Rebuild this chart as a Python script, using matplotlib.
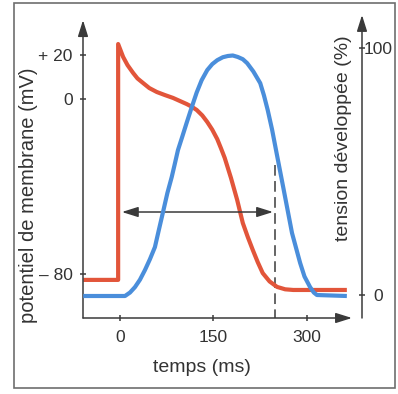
import numpy as np
import matplotlib
matplotlib.use("Agg")
import matplotlib.pyplot as plt
from matplotlib.patches import Rectangle

# potentiel d'action (mV) en fonction du temps (ms)
t_pot = [-59, -3, -3, 5, 12, 21, 28, 37, 47, 59, 72, 85, 96, 107, 115, 123,
         132, 140, 148, 156, 162, 168, 178, 188, 197, 205, 213, 221, 229, 240,
         252, 265, 278, 364]
potentiel = [-82.6, -82.6, 25.1, 19.2, 15.5, 11.9, 9.4, 7.3, 5.0, 3.2, 1.8,
             0.5, -0.9, -2.3, -3.5, -5.0, -7.5, -10.5, -14.0, -18.3, -22.5,
             -26.9, -36.0, -46.1, -56.6, -63.0, -68.9, -74.5, -79.5, -83.3,
             -85.8, -86.9, -87.2, -87.2]

# tension développée (%) en fonction du temps (ms)
t_ten = [-59, 8, 16, 24, 32, 40, 48, 56, 62, 69, 76, 83, 88, 93, 100, 107,
         115, 123, 131, 140, 148, 156, 165, 173, 181, 189, 197, 204, 214, 225,
         231, 237, 244, 252, 262, 276, 289, 296, 305, 311, 316, 364]
tension = [-0.4, -0.4, 1.0, 3.2, 6.2, 10.1, 14.5, 19.4, 26.0, 33.6, 41.3,
           47.8, 53.2, 58.7, 64.2, 69.8, 76.0, 82.0, 87.0, 91.1, 93.5, 95.1,
           96.3, 96.8, 97.0, 96.4, 95.5, 93.9, 90.5, 85.8, 80.8, 74.9, 67.0,
           56.5, 43.5, 25.1, 13.0, 7.5, 3.2, 1.0, 0.0, -0.4]

xticks = [0, 150, 300]
yticks_mv = [-80, 0, 20]
yticks_mv_lab = ['\u2013 80', '0', '+ 20']
yticks_pct = [0, 100]

duree_pa = (3, 245.5)   # fleche horizontale
niveau_fleche = -51.6
t_fin = 249             # ligne pointillee

RED = '#e2553a'
BLUE = '#4a8edb'
AX = '#3a3a3a'
TXT = '#333333'
plt.rcParams['font.family'] = ['Liberation Sans', 'DejaVu Sans']

W, H = 398, 394
fig = plt.figure(figsize=(W / 100, H / 100), dpi=100)
# axes: pixel box x 83..362, y 15..318
ax = fig.add_axes([83 / W, (H - 318) / H, (362 - 83) / W, (318 - 15) / H])
ax.set_xlim(-59.4, 388.3)
ax.set_ylim(-100, 38.36)
ax2 = ax.twinx()
ax2.set_ylim(-9.31, 113.4)

for a in (ax, ax2):
    for s in a.spines.values():
        s.set_visible(False)
    a.patch.set_visible(False)

ax.plot(t_pot, potentiel, color=RED, lw=3, solid_joinstyle='round',
        solid_capstyle='butt', zorder=3)
ax2.plot(t_ten, tension, color=BLUE, lw=3, solid_joinstyle='round',
         solid_capstyle='butt', zorder=4)

# axes avec fleches
arr = dict(arrowstyle='-|>,head_length=0.7,head_width=0.22', color=AX,
           lw=1.1, mutation_scale=14, shrinkA=0, shrinkB=0)
ax.annotate('', xy=(0, 0.983), xytext=(0, 0), xycoords='axes fraction',
            arrowprops=arr)
ax.annotate('', xy=(0.964, 0), xytext=(0, 0), xycoords='axes fraction',
            arrowprops=arr)
ax.annotate('', xy=(1, 1.0), xytext=(1, 0), xycoords='axes fraction',
            arrowprops=arr)

# fleche double + pointilles
ax.annotate('', xy=(duree_pa[0], niveau_fleche),
            xytext=(duree_pa[1], niveau_fleche),
            arrowprops=dict(arrowstyle='<|-|>,head_length=0.7,head_width=0.22',
                            color=AX, lw=1.1, mutation_scale=14,
                            shrinkA=0, shrinkB=0))
ax.plot([t_fin, t_fin], [-30, -100], color=AX, lw=1.1, dashes=(7, 3.5),
        clip_on=False)

# graduations
ax.set_xticks(xticks)
ax.set_xticklabels([str(v) for v in xticks])
ax.set_yticks(yticks_mv)
ax.set_yticklabels(yticks_mv_lab)
ax2.set_yticks(yticks_pct)
ax2.set_yticklabels([str(v) for v in yticks_pct])
ax.tick_params(axis='x', direction='inout', length=5, width=1.1, color=AX,
               labelsize=12.5, labelcolor=TXT, pad=6)
ax.tick_params(axis='y', direction='inout', length=5, width=1.1, color=AX,
               labelsize=12.5, labelcolor=TXT, pad=5)
ax2.tick_params(axis='y', direction='inout', length=5, width=1.1, color=AX,
                labelsize=12.5, labelcolor=TXT, pad=9)
for lab in ax2.get_yticklabels():
    lab.set_ha('center')

# titres d'axes
ax.text((29 - 83) / 279, (318 - 195) / 303, 'potentiel de membrane (mV)',
        transform=ax.transAxes, rotation=90, ha='center', va='center',
        fontsize=14.5, color=TXT)
ax.text((343 - 83) / 279, (318 - 138) / 303, 'tension développée (%)',
        transform=ax.transAxes, rotation=90, ha='center', va='center',
        fontsize=14, color=TXT)
ax.text((202 - 83) / 279, (318 - 367) / 303, 'temps (ms)',
        transform=ax.transAxes, ha='center', va='center',
        fontsize=14, color=TXT)

# cadre
fig.patches.append(Rectangle((14 / W, (H - 388) / H), (395 - 14) / W,
                             (388 - 3) / H, transform=fig.transFigure,
                             fill=False, edgecolor='#6e6e6e', lw=1.2))

fig.savefig('out.png', dpi=100)
